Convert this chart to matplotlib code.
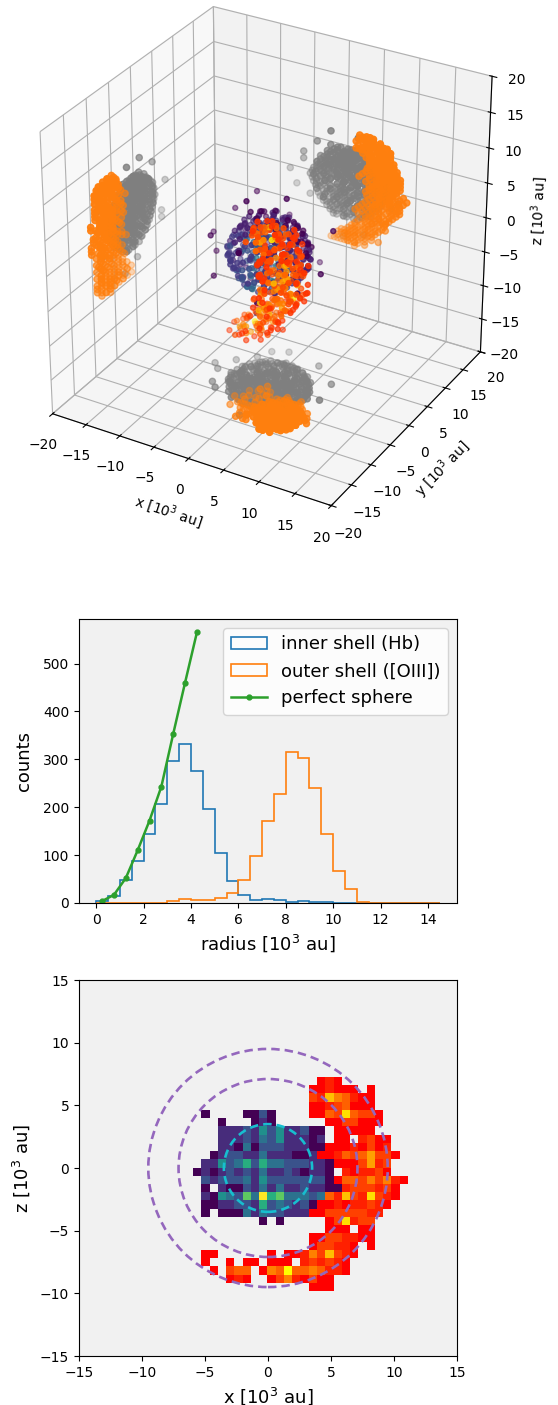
import matplotlib
matplotlib.use("Agg")
import matplotlib.pyplot as plt
import numpy as np
from matplotlib.patches import Circle

# x, y, z in 10^3 au and a density level (1-9)
inner_pts = np.array([
    (-1.5,2,5,1),(0,3.5,5,2),(1,2.5,4.8,1),(-0.5,4.8,5,1),(-2,4,4.9,1),(0.5,1,5,2),(-3,3,5,1),(2,3.5,5,1),
    (-3,1.5,4,2),(-3.5,3.5,4,2),(-2.5,5.5,4,1),(-1,6,4.2,2),(0.5,5.5,4,2),(2,5,4,1),(3,3,4,2),(2.5,1,4,1),
    (1,0,4,3),(-1,0,4,2),(-2,0.5,4.2,2),(-1.5,2.5,3.8,4),(0,2,4,5),(1,3.5,4,4),(-0.5,4,4,3),
    (-4,2,3,2),(-4.5,4,3,2),(-3.5,6,3,2),(-2,7,3,1),(0,7,3,2),(2,6,3,2),(3.5,4.5,3,1),(4,2.5,3,1),(3,0.5,3,2),
    (1.5,-1,3,2),(-0.5,-1,3,3),(-2.5,-0.5,3,2),(-3,1,2.8,3),(-2.5,3,3,4),(-1.5,5,3,3),(0.5,4,3,4),(1.5,2,3,3),
    (-0.5,1,3,5),(2.5,3.5,3,2),(-1,3,3,4),
    (-5,2.5,2,2),(-5,4,2,2),(-4,6,2,2),(-2.5,7.5,2,1),(-0.5,8,2,2),(1.5,7,2,1),(3,5.5,2,2),(4.5,4,2,1),(4.5,2,2,1),
    (3.5,0,2,2),(2,-1.5,2,2),(0,-2,2,3),(-2,-1.5,2,2),(-3.5,0,2,2),(-4.5,1,2,3),(-3,2.5,2,4),(-3,4.5,2,3),
    (-1,6,2,3),(1,5,2,4),(2.5,3,2,3),(1,1,2,4),(-1,0.5,2,5),(-1,3,1.8,4),
    (-5.5,3,1,3),(-5,5,1,2),(-4,7,1,1),(-2,8,1,2),(0,8.3,1,1),(2,7.5,1,2),(3.5,6,1,2),(4.5,4.5,1,2),(5,3,1,1),
    (4.5,1,1,2),(3,-0.5,1,2),(1,-2,1,3),(-1,-2.3,1,3),(-3,-1.5,1,3),(-4.5,0.5,1,4),(-3.5,3,1,5),(-2.5,5,1,4),
    (0,6,1,3),(2,4.5,1,4),(2.5,2,1,3),(0.5,0,1,5),(-2,0.5,1,4),(-1,2.5,1,6),
    (-6,3,0,2),(-5.5,5,0,3),(-4.5,6.5,0,2),(-3,8,0,1),(-1,8.5,0,2),(1,8,0,2),(3,7,0,1),(4,5.5,0,2),(5,4,0,2),
    (5.5,2.5,0,1),(4.5,0.5,0,2),(3,-1,0,2),(1,-2.5,0,3),(-1,-2.5,0,4),(-3,-2,0,3),(-4.5,0,0,3),(-5.5,1.5,0,3),
    (-3.5,2,0,5),(-3,4.5,0,4),(-1,6,0,4),(1,5,0,3),(2.5,3,0,4),(1,0.5,0,4),(-1,1,0,6),(-1,3.5,0,5),
    (-5.5,2,-1,3),(-5,4.5,-1,3),(-4,6.5,-1,2),(-2,8,-1,2),(0,8,-1,1),(2,7.5,-1,2),(3.5,6,-1,1),(5,3.5,-1,2),
    (4.8,1.5,-1,1),(3,-0.5,-1,3),(1,-2,-1,3),(-1,-2.5,-1,4),(-3,-1,-1,3),(-4.5,0.5,-1,3),(-3,3.5,-1,4),
    (-1.5,5.5,-1,3),(1,4,-1,4),(2,1.5,-1,3),(-1,1,-1,5),(-0.5,3,-1,5),
    (-5,2,-2,2),(-5,4,-2,2),(-3.5,6.5,-2,2),(-1.5,7.5,-2,1),(0.5,7.5,-2,2),(2.5,6.5,-2,2),(4,5,-2,1),(4.5,2.5,-2,2),
    (3.5,0,-2,2),(1.5,-1.5,-2,3),(-0.5,-2,-2,3),(-2.5,-1,-2,3),(-4,0.5,-2,3),(-3,3,-2,4),(-1,5.5,-2,4),(1,3.5,-2,4),
    (0,1,-2,5),(-2,1.5,-2,4),(2.5,2,-2,3),
    (-4.5,3,-3,2),(-4,5,-3,3),(-2.5,6.5,-3,2),(-0.5,7,-3,3),(1.5,6.5,-3,2),(3,5,-3,2),(3.8,3,-3,3),(3,0.5,-3,3),
    (1,-1,-3,4),(-1,-1.3,-3,5),(-3,0,-3,4),(-4,1.5,-3,5),(-2.5,3,-3,6),(-0.5,5,-3,7),(1,3.5,-3,6),(-0.5,1,-3,9),
    (1,1.5,-3,7),(-1.5,2,-3,7),
    (-3.5,2,-4,2),(-3,4.5,-4,2),(-1.5,6,-4,3),(0.5,6,-4,3),(2,4.5,-4,2),(2.5,2.5,-4,3),(1,0.5,-4,3),(-1,0,-4,6),
    (-2.5,0.5,-4,3),(-1,3,-4,4),(0.5,3,-4,3),
    (-2.5,3,-5,1),(-1,4.5,-5,2),(0.5,3.5,-5,2),(-0.5,1.5,-5,4),(1,2,-5,2),(-2,1.5,-5,1),(-1,3,-5,3),
    (-7,0,2,1),(-8,3,-2,1),(-6,-1,-3,1),(0,-5,4,1),(2,-4,-3,1),(6.5,7,3,1),(7,3,-1,1),(6,-1,-2,1),(-2,11,1,1),
    (-4,10,-3,1),(3,10,-4,1),(-5,8,5,1),(1,5,7,1),(-1,1,-8,1),(2,4,-7,1),(-3,2,7,1),(-7,6,3,1),(-9,4,0,1),
    (-2,2.5,4.5,2),(-0.5,3,4.5,3),(1,4,4.5,2),(-1,1.5,4.5,2),(0.5,2,4.5,3),(-2.5,4.5,4.5,1),(1.5,1.5,4.5,1),(-1,5,4.5,2),(2,3,4.5,1),
    (-3.5,2.5,3.5,2),(-3,5,3.5,2),(-1.5,6.2,3.5,2),(0.5,6.5,3.5,2),(2.5,5,3.5,1),(3.2,2,3.5,2),(2,0.2,3.5,2),(0,-0.5,3.5,2),
    (-2,0,3.5,2),(-1,2,3.5,4),(0.5,3,3.5,4),(-2,3.5,3.5,3),(-0.5,5,3.5,3),(1.5,4,3.5,3),
    (-4.5,3,2.5,2),(-3.8,5,2.5,2),(-3,6.8,2.5,1),(-1,7.5,2.5,2),(1,7,2.5,2),(2.8,6,2.5,1),(4,3.5,2.5,1),(3.8,1,2.5,2),
    (2.5,-0.8,2.5,2),(0.5,-1.5,2.5,3),(-1.5,-1,2.5,3),(-3.5,0.8,2.5,3),(-2,3,2.5,4),(-1.8,5,2.5,3),(0.5,5.5,2.5,3),
    (2,4.5,2.5,3),(1.8,1.5,2.5,3),(0,2.5,2.5,5),(-0.5,0.2,2.5,4),(0.8,3.8,2.5,4),
    (-5,3.5,1.5,3),(-4.5,5.5,1.5,2),(-3.2,7,1.5,2),(-1,8,1.5,2),(1,7.8,1.5,1),(2.8,6.5,1.5,2),(4,5,1.5,1),(5,2.8,1.5,1),
    (3.8,0.5,1.5,2),(2,-1,1.5,2),(-0.2,-2,1.5,3),(-2.5,-1,1.5,3),(-4,0.5,1.5,3),(-4,2.2,1.5,4),(-2,2,1.5,5),(-2,4,1.5,4),
    (-0.5,5,1.5,4),(1,6,1.5,3),(3,4,1.5,3),(3,2,1.5,3),(1.5,0.5,1.5,4),(0.5,3,1.5,5),(-0.5,1,1.5,5),
    (-5.7,4,0.5,3),(-5,6,0.5,2),(-3.5,7.5,0.5,2),(-1.5,8,0.5,2),(0.5,8,0.5,2),(2.5,7,0.5,2),(4,6,0.5,1),(5,3.5,0.5,2),
    (5,1.5,0.5,2),(3.8,-0.5,0.5,2),(2,-2,0.5,3),(0,-2.5,0.5,4),(-2,-2,0.5,3),(-4,-1,0.5,3),(-5.2,1,0.5,3),(-4,3.5,0.5,5),
    (-2,3,0.5,6),(-2,5.5,0.5,4),(0.5,6.5,0.5,3),(2,5.5,0.5,3),(3.5,3,0.5,3),(3,1,0.5,3),(1,-0.5,0.5,4),(-1,0,0.5,5),
    (0.5,2,0.5,6),(0,4,0.5,5),
    (-5.7,2.5,-0.5,3),(-5.2,5.2,-0.5,3),(-3.8,7.2,-0.5,2),(-1.2,8.2,-0.5,2),(1,7.8,-0.5,1),(3,6.5,-0.5,2),(4.5,4.8,-0.5,2),
    (5.2,2,-0.5,2),(3.8,0,-0.5,2),(2,-1.5,-0.5,3),(0,-2.2,-0.5,4),(-2,-1.8,-0.5,3),(-3.8,-0.5,-0.5,3),(-5,1,-0.5,3),
    (-3.8,2.2,-0.5,4),(-2,4,-0.5,5),(0,5.5,-0.5,4),(2.5,4.5,-0.5,3),(2,2.5,-0.5,4),(0,1,-0.5,5),
    (-5.2,3,-1.5,3),(-4.5,5.5,-1.5,3),(-3,7.2,-1.5,2),(-0.8,7.8,-1.5,2),(1.2,7.2,-1.5,1),(3,5.8,-1.5,2),(4.6,3.8,-1.5,2),
    (4.2,1,-1.5,2),(2.5,-1,-1.5,3),(0.5,-2.2,-1.5,4),(-1.5,-1.8,-1.5,3),(-3.5,-0.5,-1.5,3),(-4.8,1,-1.5,3),(-3,2,-1.5,4),
    (-2,5,-1.5,4),(0.5,5.5,-1.5,4),(2.5,3,-1.5,4),(1,1,-1.5,5),(-1,3,-1.5,5),
    (-4.8,3.5,-2.5,3),(-3.8,6,-2.5,2),(-2,7.2,-2.5,2),(0,7.2,-2.5,3),(2,6,-2.5,2),(3.8,4,-2.5,3),(3.8,1.5,-2.5,3),
    (2.2,-0.8,-2.5,4),(0,-1.6,-2.5,5),(-2,-0.8,-2.5,4),(-3.8,0.8,-2.5,4),(-2.5,4,-2.5,5),(-0.5,5.5,-2.5,6),(1.5,4.5,-2.5,5),
    (1.8,2,-2.5,5),(0,2.5,-2.5,7),(-1.5,0.5,-2.5,6),
    (-4,3.5,-3.5,2),(-3.5,5.3,-3.5,2),(-2,6.2,-3.5,2),(0,6.5,-3.5,3),(2,5.5,-3.5,2),(3,3.5,-3.5,3),(2.5,1,-3.5,3),
    (0.5,-0.5,-3.5,4),(-1.5,-0.5,-3.5,4),(-3,1,-3.5,3),(-1,2,-3.5,6),(0,4,-3.5,6),(-2,4,-3.5,4),
    (-3,3,-4.5,2),(-2,5,-4.5,2),(0,5.2,-4.5,2),(1.8,3.5,-4.5,2),(1.5,1.2,-4.5,2),(-0.5,0.5,-4.5,3),(-2.5,1.5,-4.5,2),(-1,3.5,-4.5,3),
])

outer_pts = np.array([
    (4,-3,7,1),(5,-4,7,2),(5.5,-2,7,1),(4.5,-5,6.8,1),(6,-3,6.9,1),
    (3.5,-3,6,1),(4.5,-4,6,3),(5,-2,6,6),(6,-5,6,4),(7,-3,6,2),(8,-1,6,1),(5.5,-6,6,3),(6.5,-1,5.8,2),(7.5,-4,6,1),
    (3.5,-5,5,2),(4,-2,5,2),(5,-4,5,4),(6,-3,5,8),(6.8,-1,5,3),(7.5,-5,5,2),(8.5,-3,5,1),(5.5,-6,4.8,3),(7,-2,5,2),
    (4.5,-1,5,1),(8,-0.5,5,1),
    (5,-3,4,1),(6,-5,4,3),(7,-2,4,2),(8,-4,4,1),(9,-2,4,1),(6.5,-6,4,1),(5.5,-1,4,2),(7.5,0,4,1),(8.5,-5,3.8,1),
    (5.5,-3,3,1),(6.5,-5,3,2),(7.5,-3,3,3),(8.5,-1,3,3),(9,-4,3,2),(6,-1,3,1),(7,-6,3,1),(8,1,3,1),(9.5,-3,3,1),
    (5,-4,2,1),(6,-2,2,4),(7,-5,2,4),(7.5,-1,2,3),(8,-3,2,6),(9,-5,2,3),(9.5,-2,2,2),(10,-3,2,1),(6.5,-7,2,1),(8.5,0,2,1),
    (4,-3,1,1),(5.5,-5,1,1),(6.5,-2,1,3),(7.5,-4,1,4),(8,-6,1,6),(8.5,-1,1,3),(9,-3,1,3),(9.5,-5,1,2),(10,-2,1,1),(7,0,1,1),
    (5.5,-4,0,1),(6.5,-2,0,2),(7.5,-5,0,2),(8,-3,0,6),(8.5,-1,0,2),(9,-6,0,2),(9.5,-3,0,2),(7,-6.5,0,1),(6,0,0,1),
    (5,-3,-1,2),(6,-5,-1,4),(7,-2,-1,3),(7.5,-4,-1,5),(8.5,-6,-1,3),(9,-2,-1,5),(10,-4,-1,2),(11,-3,-1,1),(8,0,-1,1),(6.5,-7,-1,1),
    (5.5,-4,-2,4),(6.5,-2,-2,3),(7.5,-5,-2,3),(8.5,-3,-2,3),(9,-1,-2,2),(9.5,-5,-2,2),(10,-3,-2,1),(7,0,-2,2),(8,-7,-2,1),
    (4.5,-3,-3,3),(5.5,-5,-3,7),(6.5,-1,-3,3),(7.5,-4,-3,4),(8.5,-2,-3,8),(9,-5,-3,3),(9.5,-3,-3,2),(10,-2,-3,1),(7,-6,-3,2),(6,1,-3,1),
    (3.5,-3,-4,1),(4.5,-5,-4,1),(5.5,-2,-4,2),(6.5,-4,-4,2),(7.5,-1,-4,2),(8.5,-5,-4,3),(9,-3,-4,1),(7,-6,-4,1),(6,0,-4,1),
    (5,-3,-5,8),(5.5,-5,-5,3),(6,-1,-5,3),(7,-4,-5,3),(8,-2,-5,3),(6.5,-6,-5,2),(7.5,0,-5,1),(8,-5,-5,1),
    (3.5,-4,-6,1),(4.5,-2,-6,3),(5.5,-5,-6,3),(6.5,-1,-6,2),(7.5,-3,-6,1),(8,-5,-6,1),(5,0,-6,1),(6,-6,-6,1),
    (2.5,-3,-7,2),(3.5,-5,-7,5),(4.5,-1,-7,7),(5,-4,-7,3),(6,-2,-7,2),(6.5,-5,-7,1),(3,1,-7,1),(4,-6,-7,1),(5.5,0,-7,1),
    (1,-3,-8,3),(1.5,-1,-8,4),(2,-4,-8,5),(3,-2,-8,9),(3.5,-5,-8,4),(4.5,-3,-8,4),(5,-1,-8,5),(6,-4,-8,2),(2,1,-8,1),
    (2.5,-6,-8,2),(4,0,-8,2),(2.5,2,-8,1),(3.5,1,-8,1),(7,-2,-8,1),
    (0,-2,-9,1),(1,0,-9,3),(1.5,-3,-9,2),(2,1,-9,1),(2.5,-1,-9,3),(3,-3,-9,5),(3.5,0,-9,2),(4,-2,-9,3),(5,-4,-9,1),
    (0.5,-4,-9,1),(3.5,-5,-9,1),(2.5,2,-9,1),(3.5,-3,-9.5,1),
    (4,-4,6.5,2),(5,-3,6.5,3),(6,-2,6.5,2),(7,-4,6.5,1),(5.5,-5.5,6.5,2),(4.5,-1.5,6.5,1),
    (3.8,-4,5.5,2),(4.8,-2.5,5.5,3),(5.5,-5,5.5,5),(6.5,-3,5.5,4),(7.5,-1.5,5.5,2),(8,-4,5.5,1),(5.5,-1,5.5,3),(6.8,-6,5.5,2),(8.5,-2,5.5,1),
    (4.5,-3,4.5,2),(5.5,-5,4.5,2),(6.2,-2,4.5,4),(7,-4,4.5,3),(8,-2,4.5,1),(8.5,-4.5,4.5,1),(5.5,-0.5,4.5,1),(7.5,-0.5,4.5,1),
    (5.5,-4,3.5,1),(6.5,-2,3.5,2),(7,-5,3.5,2),(8,-3,3.5,2),(9,-1.5,3.5,1),(6,-6,3.5,1),(7.5,-0.5,3.5,2),(9,-4.5,3.5,1),
    (5.2,-2,2.5,1),(6,-4,2.5,3),(7,-2.5,2.5,4),(7.5,-6,2.5,2),(8.5,-3.5,2.5,5),(9,-1,2.5,2),(9.5,-4,2.5,2),(6.5,0,2.5,1),
    (4.5,-4,1.5,1),(5.5,-2.5,1.5,2),(6.5,-5,1.5,3),(7.5,-2.5,1.5,5),(8.5,-4.5,1.5,4),(9,-2,1.5,3),(9.8,-3.8,1.5,2),(7,-7,1.5,1),(8,0.5,1.5,1),(10,-1,1.5,1),
    (5,-4.5,0.5,1),(6,-2.5,0.5,3),(7,-5.5,0.5,3),(7.5,-2,0.5,5),(8.5,-3.5,0.5,5),(9,-5.5,0.5,2),(9.5,-1.5,0.5,2),(10,-4,0.5,1),(6.5,0.5,0.5,1),
    (5.5,-2,-0.5,2),(6,-4,-0.5,3),(7,-6.5,-0.5,2),(7.5,-3,-0.5,5),(8.5,-4,-0.5,4),(9,-0.5,-0.5,2),(9.5,-5.5,-0.5,2),(10.5,-2,-0.5,1),
    (5.2,-4.5,-1.5,3),(6,-1.5,-1.5,3),(7,-3.5,-1.5,4),(8,-5.5,-1.5,3),(8.5,-1,-1.5,3),(9,-3.5,-1.5,4),(9.8,-5,-1.5,2),(10.5,-2.5,-1.5,1),(7,-7,-1.5,1),
    (5,-4,-2.5,5),(6,-2.5,-2.5,4),(7,-5.5,-2.5,4),(8,-2,-2.5,5),(8.5,-4.5,-2.5,4),(9.5,-1.5,-2.5,2),(10,-4,-2.5,1),(6.5,0,-2.5,1),
    (4,-4,-3.5,2),(5,-1.5,-3.5,2),(6,-5,-3.5,4),(7,-2.5,-3.5,3),(8,-4,-3.5,5),(8.8,-1,-3.5,3),(9.5,-4.5,-3.5,1),
    (4,-2,-4.5,3),(5,-4.5,-4.5,6),(6,-3,-4.5,3),(7,-5.5,-4.5,3),(8,-3,-4.5,2),(7,-0.5,-4.5,2),(8.5,-1.5,-4.5,1),
    (4,-3.5,-5.5,2),(5,-1,-5.5,3),(6,-4.5,-5.5,4),(7,-2.5,-5.5,2),(7.8,-4.5,-5.5,1),(6,0.5,-5.5,1),
    (3,-4,-6.5,2),(4,-2,-6.5,5),(5,-5,-6.5,3),(5.5,-1,-6.5,3),(6.5,-3,-6.5,2),(3.5,0,-6.5,1),(7,-5,-6.5,1),
    (1.5,-2,-7.5,2),(2.5,-4,-7.5,4),(3,-1,-7.5,5),(4,-3,-7.5,4),(5,-1,-7.5,3),(5.5,-5,-7.5,2),(2,0.5,-7.5,1),(6,-3,-7.5,1),(3.5,-6,-7.5,1),
    (1,-1.5,-8.5,2),(2,-3,-8.5,3),(3,0,-8.5,3),(4,-3,-8.5,4),(5,-1.5,-8.5,2),(2.5,-5,-8.5,1),
])
# the point clouds sit here in the 3D panel, read from the wall projections
inner_offset = (0.5, -3.5, -0.5)
outer_offset = (-2.3, -3.0, 0.0)

# histogram counts per 0.5 wide radius bin
radius_edges = np.arange(0, 14.51, 0.5)
inner_counts = [5, 14, 47, 87, 145, 207, 297, 333, 275, 197, 104, 45, 16, 7, 8, 6, 3, 4, 3, 2,
                1, 0, 0, 0, 0, 0, 0, 0, 0]
outer_counts = [0, 0, 0, 0, 0, 0, 5, 8, 6, 6, 11, 21, 47, 99, 171, 227, 315, 303, 240, 144,
                66, 30, 3, 1, 1, 0, 0, 0, 0]
sphere_r = [0.25, 0.75, 1.25, 1.75, 2.25, 2.75, 3.25, 3.75, 4.25]
sphere_counts = [4, 17, 52, 110, 172, 243, 353, 460, 565]

# x-z maps, one character per cell, "." is an empty cell, top row is the highest z
inner_rows = [
    "..........................",
    "..........................",
    "..........................",
    "..........................",
    ".1....1131................",
    "...1...121................",
    "...2223253522311..........",
    "...2223243522212..........",
    "...2214133322211..........",
    "..1233224222112...........",
    ".2253463644333221.........",
    "12123232422321221.........",
    ".3233342533333331.........",
    ".1.211324242232211........",
    ".215437496744434..........",
    ".11223326343231...........",
    ".1.11142433222............",
    "........1.1...............",
    "..........................",
    "..........................",
    "..........................",
    "..........................",
    "..........................",
    "..........................",
    "..........................",
    "..........................",
]
outer_rows = [
    "...............121........",
    "..............112111.1....",
    "..............32754211....",
    "..............11234111....",
    "..............114384331...",
    "................1133111...",
    ".................11111....",
    ".................11.2311..",
    "................11121312..",
    "...............1124346331.",
    ".................1113623..",
    "..................212231..",
    ".................144353521",
    "..................2333231.",
    "................427328321.",
    "...............112122321..",
    "..............113333322...",
    "................138233....",
    "................111.11....",
    "..............11332211....",
    "..............133221.1....",
    ".11......1.112537321......",
    ".1..1.11.111.232321.......",
    "..1.344.15494454221.......",
    "....121..13521311.........",
    "..............111.........",
]
map_x_range = (-5.93, 11.09)
map_z_range = (-9.81, 7.24)
inner_circle_r = [3.5]
outer_circle_r = [7.1, 9.5]


def rows_to_array(rows):
    return np.ma.masked_equal(
        [[0 if ch == "." else int(ch) for ch in row] for row in rows], 0
    )


W, H = 558, 1405
fig = plt.figure(figsize=(W / 100, H / 100), dpi=100)

# 3D panel
ax0 = fig.add_axes([-0.014, 0.6267, 0.97, 0.385], projection="3d")
ix, iy, iz = inner_pts[:, :3].T + np.array(inner_offset)[:, None]
ox, oy, oz = outer_pts[:, :3].T + np.array(outer_offset)[:, None]
ic, oc = inner_pts[:, 3], outer_pts[:, 3]
ax0.scatter(ix, iy, iz, c=ic, cmap="viridis", vmin=1, vmax=13, s=13)
ax0.scatter(ox, oy, oz, c=oc, cmap="autumn", vmin=-1, vmax=9, s=13)
for xs, ys, zs, color in [(ix, iy, iz, "tab:gray"), (ox, oy, oz, "tab:orange")]:
    ax0.scatter(xs, zs, zs=20, zdir="y", color=color, s=20)
    ax0.scatter(ys, zs, zs=-20, zdir="x", color=color, s=20)
    ax0.scatter(xs, ys, zs=-20, zdir="z", color=color, s=20)
ax0.set_xlim(-20, 20)
ax0.set_ylim(-20, 20)
ax0.set_zlim(-20, 20)
ax0.set_aspect("equal")
ax0.set_xlabel("x [$10^3$ au]")
ax0.set_ylabel("y [$10^3$ au]")
ax0.set_zlabel("z [$10^3$ au]")

# histogram panel
ax1 = fig.add_axes([79 / W, 1 - 903 / H, 378 / W, 284 / H], facecolor="0.945")
centers = radius_edges[:-1] + 0.25
ax1.hist(centers, bins=radius_edges, weights=inner_counts, histtype="step", lw=1.2, label="inner shell (Hb)")
ax1.hist(centers, bins=radius_edges, weights=outer_counts, histtype="step", lw=1.2, label="outer shell ([OIII])")
ax1.plot(sphere_r, sphere_counts, ".-", lw=1.8, ms=7, label="perfect sphere")
ax1.set_ylim(0, 593)
ax1.set_xlabel("radius [$10^3$ au]", fontsize=13)
ax1.set_ylabel("counts", fontsize=13, labelpad=7)
ax1.legend(fontsize=13, loc="upper right")

# x-z map panel
ax2 = fig.add_axes([79 / W, 1 - 1356 / H, 378 / W, 376 / H], facecolor="0.945")
extent = [map_x_range[0], map_x_range[1], map_z_range[0], map_z_range[1]]
ax2.imshow(rows_to_array(inner_rows), cmap="viridis", vmin=1, vmax=9, extent=extent, aspect="auto")
ax2.imshow(rows_to_array(outer_rows), cmap="autumn", vmin=1, vmax=9, extent=extent, aspect="auto")
for r in inner_circle_r:
    ax2.add_patch(Circle((0, 0), r, fill=False, ls=(0, (3.2, 1.9)), lw=1.9, ec="tab:cyan"))
for r in outer_circle_r:
    ax2.add_patch(Circle((0, 0), r, fill=False, ls=(0, (3.2, 1.9)), lw=1.9, ec="tab:purple"))
ax2.set_xlim(-15, 15)
ax2.set_ylim(-15, 15)
ax2.set_xlabel("x [$10^3$ au]", fontsize=13)
ax2.set_ylabel("z [$10^3$ au]", fontsize=13, labelpad=6)

fig.savefig("out.png", dpi=100)
